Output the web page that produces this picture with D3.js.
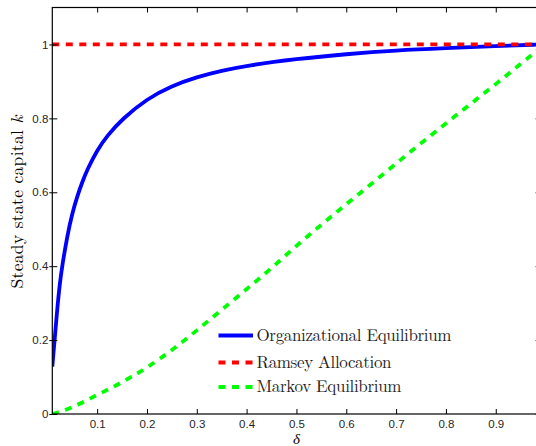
<!DOCTYPE html>
<html>
<head>
<meta charset="utf-8">
<script src="https://cdn.jsdelivr.net/npm/d3@7"></script>
<style>
  html, body { margin: 0; padding: 0; background: #fff; }
  svg { display: block; }
</style>
</head>
<body>
<svg id="chart" width="536" height="446"></svg>
<script>
// Depreciation rate grid and steady-state capital under each regime
const deltaOrg = [0.01, 0.015, 0.02, 0.025, 0.03, 0.04, 0.05, 0.06, 0.07, 0.08, 0.10, 0.12, 0.15, 0.20, 0.25, 0.30, 0.35, 0.40, 0.50, 0.60, 0.70, 0.80, 0.90, 0.99];
const kOrg     = [0.128, 0.206, 0.286, 0.353, 0.402, 0.482, 0.543, 0.589, 0.627, 0.661, 0.714, 0.753, 0.798, 0.853, 0.888, 0.912, 0.929, 0.943, 0.961, 0.974, 0.984, 0.990, 0.9955, 1.0];

const deltaRamsey = [0.01, 0.99];
const kRamsey     = [1.0, 1.0];

const deltaMarkov = [0.01, 0.03, 0.05, 0.075, 0.10, 0.125, 0.15, 0.175, 0.20, 0.25, 0.30, 0.35, 0.40, 0.45, 0.50, 0.55, 0.60, 0.65, 0.70, 0.75, 0.80, 0.85, 0.90, 0.95, 0.99];
const kMarkov     = [0.000, 0.008, 0.018, 0.034, 0.052, 0.068, 0.086, 0.106, 0.125, 0.172, 0.226, 0.282, 0.338, 0.394, 0.456, 0.512, 0.568, 0.622, 0.678, 0.733, 0.786, 0.840, 0.892, 0.948, 0.990];

const xTicks = [0.1, 0.2, 0.3, 0.4, 0.5, 0.6, 0.7, 0.8, 0.9];
const yTicks = [0, 0.2, 0.4, 0.6, 0.8, 1];

const seriesNames = ["Organizational Equilibrium", "Ramsey Allocation", "Markov Equilibrium"];
const seriesColors = ["#0000ff", "#ff0000", "#00ff00"];
const legendTextWidths = [195, 135, 145];

const svg = d3.select("#chart");

const plotLeft = 52.3, plotRight = 540.6, plotTop = 7.5, plotBottom = 414;
const x = d3.scaleLinear().domain([0.01, 0.99]).range([plotLeft, plotRight]);
const y = d3.scaleLinear().domain([0, 1.1]).range([plotBottom, plotTop]);

svg.append("defs").append("clipPath").attr("id", "plotClip")
  .append("rect").attr("x", plotLeft).attr("y", plotTop)
  .attr("width", plotRight - plotLeft).attr("height", plotBottom - plotTop);

const series = [
  { d: deltaOrg, k: kOrg, dash: null },
  { d: deltaRamsey, k: kRamsey, dash: "7,6.5" },
  { d: deltaMarkov, k: kMarkov, dash: "7,6.5" }
];

const line = d3.line().x(p => x(p[0])).y(p => y(p[1])).curve(d3.curveBasis);

const plot = svg.append("g").attr("clip-path", "url(#plotClip)");
series.forEach((s, i) => {
  plot.append("path")
    .datum(d3.zip(s.d, s.k))
    .attr("d", line)
    .attr("fill", "none")
    .attr("stroke", seriesColors[i])
    .attr("stroke-width", 3.8)
    .attr("stroke-dasharray", s.dash);
});

// Axes: ticks drawn inward, box on all four sides
const tickFont = "'Liberation Sans', Arial, sans-serif";
const xAxis = svg.append("g").attr("transform", `translate(0,${plotBottom})`)
  .call(d3.axisBottom(x).tickValues(xTicks).tickSize(-5).tickPadding(6).tickFormat(d3.format("")));
const xTop = svg.append("g").attr("transform", `translate(0,${plotTop})`)
  .call(d3.axisTop(x).tickValues(xTicks).tickSize(-5).tickFormat(""));
const yAxis = svg.append("g").attr("transform", `translate(${plotLeft},0)`)
  .call(d3.axisLeft(y).tickValues(yTicks).tickSize(-5).tickPadding(4).tickFormat(d3.format("")));
const yRight = svg.append("g").attr("transform", `translate(${plotRight},0)`)
  .call(d3.axisRight(y).tickValues(yTicks).tickSize(-5).tickFormat(""));

[xAxis, xTop, yAxis, yRight].forEach(g => {
  g.select(".domain").remove();
  g.selectAll(".tick line").attr("stroke", "#000").attr("stroke-width", 1);
  g.selectAll(".tick text").attr("font-family", tickFont).attr("font-size", 11.5).attr("fill", "#262626");
});
// short outward stubs on the left ticks
yAxis.selectAll(".tick").append("line").attr("x1", -3).attr("x2", 0).attr("stroke", "#000");

svg.append("rect")
  .attr("x", plotLeft).attr("y", plotTop)
  .attr("width", plotRight - plotLeft).attr("height", plotBottom - plotTop)
  .attr("fill", "none").attr("stroke", "#000").attr("stroke-width", 1.2);

// Axis titles
const serif = "'Latin Modern Roman', 'CMU Serif', 'Liberation Serif', 'Times New Roman', serif";
svg.append("text")
  .attr("x", x(0.5)).attr("y", 443.5)
  .attr("text-anchor", "middle")
  .attr("font-family", serif).attr("font-style", "italic").attr("font-size", 15)
  .text("δ");

const ylab = svg.append("text")
  .attr("transform", "translate(23,202) rotate(-90)")
  .attr("text-anchor", "middle")
  .attr("font-family", serif).attr("font-size", 17.5)
  .attr("textLength", 173).attr("lengthAdjust", "spacing");
ylab.append("tspan").text("Steady state capital ");
ylab.append("tspan").attr("font-style", "italic").text("k");

// Legend
const legend = svg.append("g");
const rowY = [335.5, 362.5, 387];
seriesNames.forEach((name, i) => {
  legend.append("line")
    .attr("x1", 218.5).attr("x2", 253).attr("y1", rowY[i]).attr("y2", rowY[i])
    .attr("stroke", seriesColors[i]).attr("stroke-width", 3.8)
    .attr("stroke-dasharray", series[i].dash);
  legend.append("text")
    .attr("x", 256.5).attr("y", rowY[i] + 5)
    .attr("font-family", serif).attr("font-size", 17)
    .attr("fill", "#222")
    .attr("textLength", legendTextWidths[i]).attr("lengthAdjust", "spacing")
    .text(name);
});
</script>
</body>
</html>
